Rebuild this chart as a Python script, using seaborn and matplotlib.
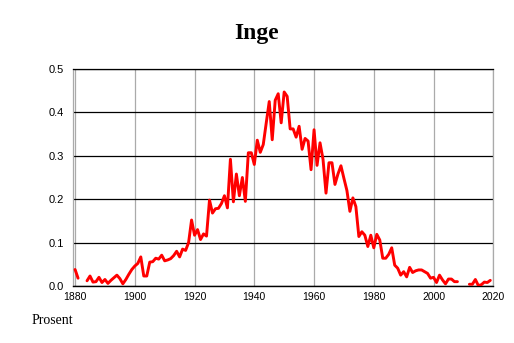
import numpy as np
import pandas as pd
import matplotlib.pyplot as plt
import seaborn as sns

# share of newborns named Inge, per year (percent); NaN = no data
years = list(range(1880, 2020))
values = [
    0.038, 0.018, np.nan, np.nan, 0.012, 0.023, 0.009, 0.010, 0.020, 0.008,   # 1880
    0.015, 0.006, 0.013, 0.019, 0.025, 0.017, 0.005, 0.015, 0.027, 0.038,    # 1890
    0.046, 0.052, 0.067, 0.023, 0.023, 0.055, 0.056, 0.064, 0.062, 0.071,    # 1900
    0.058, 0.060, 0.063, 0.070, 0.080, 0.067, 0.085, 0.082, 0.100, 0.152,    # 1910
    0.117, 0.130, 0.107, 0.120, 0.115, 0.198, 0.168, 0.178, 0.179, 0.190,    # 1920
    0.208, 0.180, 0.292, 0.194, 0.258, 0.208, 0.250, 0.195, 0.307, 0.307,    # 1930
    0.280, 0.336, 0.308, 0.326, 0.376, 0.425, 0.337, 0.428, 0.443, 0.376,    # 1940
    0.447, 0.437, 0.362, 0.362, 0.343, 0.368, 0.315, 0.340, 0.334, 0.268,    # 1950
    0.360, 0.278, 0.330, 0.292, 0.214, 0.284, 0.284, 0.234, 0.258, 0.277,    # 1960
    0.248, 0.220, 0.172, 0.203, 0.183, 0.114, 0.125, 0.117, 0.091, 0.117,    # 1970
    0.088, 0.119, 0.106, 0.064, 0.064, 0.073, 0.088, 0.048, 0.041, 0.025,    # 1980
    0.033, 0.021, 0.043, 0.031, 0.035, 0.037, 0.037, 0.033, 0.029, 0.018,    # 1990
    0.020, 0.008, 0.025, 0.014, 0.005, 0.016, 0.016, 0.010, 0.010, np.nan,   # 2000
    np.nan, np.nan, 0.004, 0.004, 0.015, 0.001, 0.003, 0.009, 0.008, 0.013,  # 2010
]
x_ticks = [1880, 1900, 1920, 1940, 1960, 1980, 2000, 2020]
y_ticks = [0.0, 0.1, 0.2, 0.3, 0.4, 0.5]

df = pd.DataFrame({"year": years, "pct": values})
# split into pieces at the gaps so the line breaks there
df["seg"] = df["pct"].isna().cumsum()
df = df.dropna()

sns.set_style("white")
plt.rcParams["font.family"] = ["Liberation Sans", "DejaVu Sans"]
plt.rcParams["text.color"] = "black"
plt.rcParams["xtick.labelcolor"] = "black"
plt.rcParams["ytick.labelcolor"] = "black"

fig = plt.figure(figsize=(5.14, 3.43), dpi=100)
ax = fig.add_axes([0.1414, 0.1662, 0.8183, 0.6326])

sns.lineplot(data=df, x="year", y="pct", units="seg", estimator=None,
             color="#ff0000", linewidth=2.1, ax=ax, zorder=3)

ax.set_xlim(1879.2, 2020)
ax.set_ylim(0, 0.5)
ax.set_xticks(x_ticks)
ax.set_xticks(range(1885, 2020, 5), minor=True)
ax.set_yticks(y_ticks)
ax.set_yticklabels([f"{v:.1f}" for v in y_ticks], fontsize=8)
ax.set_xticklabels([str(v) for v in x_ticks], fontsize=7.5)
ax.set_xlabel("")
ax.set_ylabel("")

ax.grid(axis="y", color="black", linewidth=0.9)
ax.grid(axis="x", color="#aaaaaa", linewidth=0.9)
ax.set_axisbelow(True)

for side in ["left", "right"]:
    ax.spines[side].set_color("#aaaaaa")
    ax.spines[side].set_linewidth(0.9)
ax.spines["top"].set_color("black")
ax.spines["top"].set_linewidth(0.9)
ax.spines["bottom"].set_color("black")
ax.spines["bottom"].set_linewidth(1.0)

ax.tick_params(axis="y", length=2, width=0.9, color="black", pad=4)
ax.tick_params(axis="x", which="major", length=3, width=0.8, color="#888888", pad=1)
ax.tick_params(axis="x", which="minor", length=2, width=0.8, color="#888888")

fig.text(0.5, 0.902, "Inge", ha="center", va="center", fontsize=17,
         fontweight="bold", color="black", family=["Liberation Serif", "DejaVu Serif"])
fig.text(0.062, 0.067, "Prosent", ha="left", va="center", fontsize=10,
         color="black", family=["Liberation Serif", "DejaVu Serif"])

fig.savefig("out.png", dpi=100)
